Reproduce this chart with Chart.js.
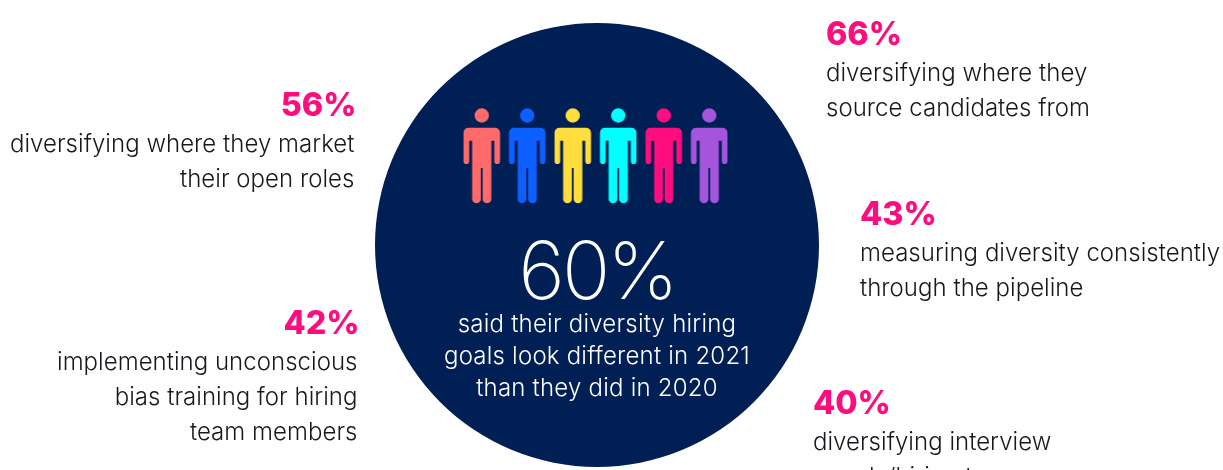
<!DOCTYPE html>
<html lang="en">
<head>
    <meta charset="UTF-8">
    <title>Diversity hiring goals</title>
    <script src="https://cdn.jsdelivr.net/npm/chart.js"></script>
    <style>
        html, body {
            margin: 0;
            width: 1223px;
            height: 470px;
            overflow: hidden;
            background: #ffffff;
            font-family: Inter, sans-serif;
        }

        canvas, .callout, #headline {
            position: absolute;
        }

        #circleChart { left: 375px; top: 23px; }
        #peopleChart { left: 459px; top: 101px; }

        .callout, #headline {
            will-change: transform;
        }

        .callout {
            color: #16181d;
            font-size: 24px;
            font-weight: 300;
            line-height: 34.8px;
            letter-spacing: 0.03px;
            white-space: nowrap;
        }

        .callout b {
            display: block;
            position: relative;
            margin-bottom: 2px;
            color: #ff0d7e;
            font-size: 32.3px;
            font-weight: 800;
            line-height: 40px;
            letter-spacing: 0;
        }

        .callout.right { text-align: right; }
        .callout.right b { left: 2px; }

        #headline {
            left: 397px;
            top: 224px;
            width: 400px;
            color: #ffffff;
            text-align: center;
            font-size: 24px;
            font-weight: 300;
            line-height: 32.2px;
            letter-spacing: 0.22px;
        }

        #headline b {
            display: block;
            position: relative;
            top: 4px;
            font-size: 80px;
            font-weight: 200;
            line-height: 84px;
            letter-spacing: -3px;
        }
    </style>
</head>
<body>
    <canvas id="circleChart" width="444" height="444"></canvas>
    <canvas id="peopleChart" width="273" height="110"></canvas>
    <div id="headline"></div>
    <div class="callout" id="c66" style="left:826px;top:14px"></div>
    <div class="callout" id="c43" style="left:860px;top:194px"></div>
    <div class="callout" id="c40" style="left:813px;top:383px"></div>
    <div class="callout right" id="c56" style="right:869px;top:85px"></div>
    <div class="callout right" id="c42" style="right:866px;top:303px"></div>

    <script>
        const headlineShare = [60];
        const headlineLines = ['said their diversity hiring', 'goals look different in 2021', 'than they did in 2020'];

        const calloutIds = ['c66', 'c43', 'c40', 'c56', 'c42'];
        const calloutShares = [66, 43, 40, 56, 42];
        const calloutLines = [
            ['diversifying where they', 'source candidates from'],
            ['measuring diversity consistently', 'through the pipeline'],
            ['diversifying interview', 'panels/hiring teams'],
            ['diversifying where they market', 'their open roles'],
            ['implementing unconscious', 'bias training for hiring', 'team members']
        ];

        const peopleLabels = ['a', 'b', 'c', 'd', 'e', 'f'];
        const peopleRows = [1, 1, 1, 1, 1, 1];
        const peopleColors = ['#ff6b6b', '#0d5fff', '#ffdd3c', '#00ffff', '#ff0d7e', '#a455dc'];

        // text
        document.getElementById('headline').innerHTML =
            '<b>' + headlineShare[0] + '%</b>' + headlineLines.join('<br>');
        calloutIds.forEach((id, i) => {
            document.getElementById(id).innerHTML =
                '<b>' + calloutShares[i] + '%</b>' + calloutLines[i].join('<br>');
        });

        // one person icon, used as the point style
        function personIcon(color) {
            const c = document.createElement('canvas');
            c.width = 38;
            c.height = 96;
            const g = c.getContext('2d');
            g.fillStyle = color;
            g.beginPath();
            g.arc(19, 7.5, 7.2, 0, Math.PI * 2);
            g.roundRect(0.75, 19.7, 36.5, 13, [5, 5, 0, 0]);
            g.roundRect(0.75, 25, 5.7, 31, 2.8);
            g.roundRect(31.55, 25, 5.7, 31, 2.8);
            g.rect(9.4, 25, 19.2, 35);
            g.roundRect(9.4, 50, 8.7, 45.3, 4.3);
            g.roundRect(19.9, 50, 8.7, 45.3, 4.3);
            g.fill();
            return c;
        }

        new Chart(document.getElementById('circleChart'), {
            type: 'pie',
            data: {
                labels: ['Diversity hiring goals look different'],
                datasets: [{ data: headlineShare, backgroundColor: '#001f54', borderWidth: 0 }]
            },
            options: {
                responsive: false,
                animation: false,
                plugins: { legend: { display: false }, tooltip: { enabled: false } }
            }
        });

        new Chart(document.getElementById('peopleChart'), {
            type: 'line',
            data: {
                labels: peopleLabels,
                datasets: [{
                    data: peopleRows,
                    showLine: false,
                    clip: false,
                    pointStyle: peopleColors.map(personIcon)
                }]
            },
            options: {
                responsive: false,
                animation: false,
                layout: { autoPadding: false },
                scales: {
                    x: { display: false, offset: true },
                    y: { display: false, min: 0, max: 2 }
                },
                plugins: { legend: { display: false }, tooltip: { enabled: false } }
            }
        });
    </script>
</body>
</html>
